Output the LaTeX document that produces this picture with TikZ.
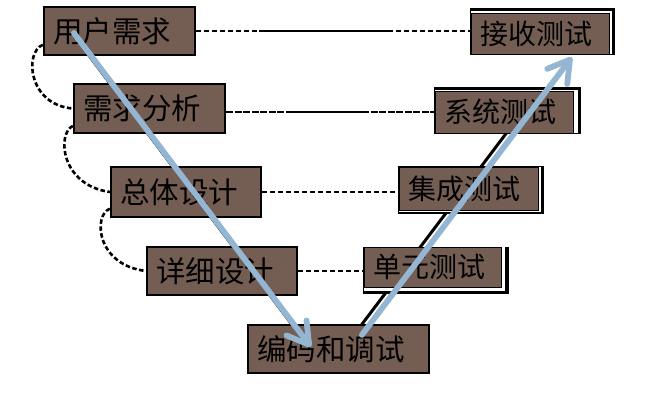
\documentclass[tikz,border=0pt]{standalone}
\usepackage{fontspec}
\newfontfamily\cjk{Noto Sans CJK SC}
\usetikzlibrary{arrows.meta,calc,backgrounds}
\definecolor{boxbrown}{RGB}{116,94,84}
\definecolor{flowblue}{RGB}{148,182,210}

\begin{document}
\begin{tikzpicture}[x=1pt,y=-1pt,
  stage/.style={draw=black, line width=2.2pt, fill=boxbrown, inner xsep=9pt, inner ysep=0pt,
    minimum height=48pt, text width=#1, align=left, font=\cjk\fontsize{29.5}{30}\selectfont},
  testbox/.style={draw=black, line width=0.6pt, fill=boxbrown, inner xsep=9pt, inner ysep=0pt,
    text width=#1, align=left, font=\cjk\fontsize{28}{28}\selectfont},
  link/.style={line width=2.2pt, dash pattern=on 5pt off 3pt},
  finelink/.style={line width=2pt, dash pattern=on 7pt off 1.5pt},
  solidpart/.style={line width=2.2pt},
  loop/.style={line width=2.6pt, dash pattern=on 4.5pt off 2.5pt},
  flow/.style={flowblue, line width=5.8pt, line cap=round,
    -{Straight Barb[length=21pt,width=25pt,round]}},
  under/.style={black, line width=#1},
]
\useasboundingbox (0,0) rectangle (652,403);

% left branch: requirements and design stages
\node[stage=133pt, minimum height=48pt] (A) at (119.5,31) {用户需求};
\node[stage=133pt, minimum height=49pt] (B) at (149.5,108.5) {需求分析};
\node[stage=132pt, minimum height=50pt] (C) at (186,192) {总体设计};
\node[stage=132pt, minimum height=48pt] (D) at (222,271) {详细设计};
\node[stage=163pt, minimum height=48pt] (E) at (338.5,349) {编码和调试};

% right branch: test stages
\node[testbox=120pt, minimum height=41pt] (F) at (540,33.5) {接收测试};
\node[testbox=120pt, minimum height=42pt] (G) at (504,112) {系统测试};
\node[testbox=121pt, minimum height=43pt] (H) at (468.5,188.5) {集成测试};
\node[testbox=119pt, minimum height=40pt] (I) at (432.5,267) {单元测试};

% flow arrows end points
\coordinate (a1s) at ($(A.west)+(31,2)$);
\coordinate (a1e) at ($(E.west)+(64,-2)$);
\coordinate (a2s) at ($(E.north west)+(115,11)$);
\coordinate (a2e) at ($(F.south west)+(101,3)$);

\begin{scope}[on background layer]
  % level links between design and test stages
  \draw[link] (A.east) -- (A.east -| F.west);
  \draw[solidpart] ($(A.east)!0.23!(A.east -| F.west)$) -- ($(A.east)!0.716!(A.east -| F.west)$);
  \draw[finelink] (B.east |- G.west) -- (G.west);
  \draw[solidpart] ($(B.east |- G.west)!0.29!(G.west)$) -- ($(B.east |- G.west)!0.66!(G.west)$);
  \draw[link, line width=2.6pt] (C.east) -- (C.east -| H.west);
  \draw[link, line width=2pt] (D.east) -- (D.east -| I.west);

  % feedback loops between successive stages
  \draw[loop] ($(A.west)!0.55!(A.south west)$) .. controls (24,52) and (28,105) .. (B.west);
  \draw[loop] ($(B.west)!0.68!(B.south west)$) .. controls (57,133) and (60,185) .. (C.west);
  \draw[loop] ($(C.west)!0.64!(C.south west)$) .. controls (93,215) and (96,265) .. (D.west);

  % dark edges along the flow arrows
  \draw[under=1.3pt] ($(a1s)+(-3,0)$) -- ($(a1s)!0.96!(a1e)+(-3,0)$);
  \draw[under=3pt] ($(a2s)!0.036!(a2e)+(-8,0)$) -- ($(a2s)!0.80!(a2e)+(-8,0)$);

  % raised frames of the test boxes
  \fill[black] (470,8) rectangle (615,55);
  \fill[white] (471,11) rectangle (612,54);
  \fill[black] (434,87) rectangle (581,134);
  \fill[white] (435,90) rectangle (578,133);
  \fill[black] (398,166) rectangle (544,214);
  \fill[white] (399,167) rectangle (541,212);
  \fill[black] (363,247) rectangle (509,294);
  \fill[white] (364,247) rectangle (505,291);
\end{scope}

% flow arrows
\draw[flow] (a1s) -- (a1e);
\draw[flow] (a2s) -- (a2e);
\end{tikzpicture}
\end{document}
